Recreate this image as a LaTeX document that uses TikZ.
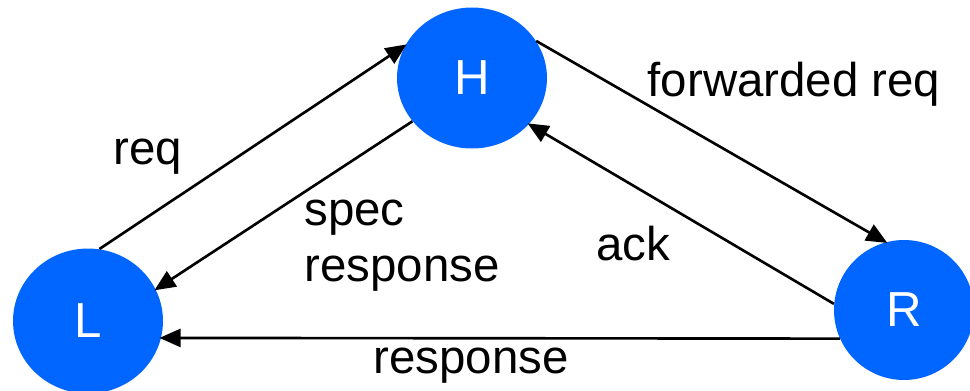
\documentclass[tikz,border=0pt]{standalone}
\usepackage{fontspec}
\setmainfont{Liberation Sans}
\usepackage{tikz}
\usetikzlibrary{arrows.meta,shapes.geometric}
\definecolor{azulNodo}{HTML}{0066FF}

\begin{document}
\begin{tikzpicture}[
  x=0.02cm, y=-0.02cm,
  circ/.style={ellipse, fill=azulNodo, draw=none, inner sep=0pt, text=white, font=\fontsize{28}{32}\selectfont},
  lbl/.style={font=\fontsize{27}{32}\selectfont, inner sep=0pt, align=left},
  arrow/.style={-{Triangle[length=0.42cm, width=0.36cm]}, line width=1.5pt, black, shorten >=-1pt}
]
\clip (0,0) rectangle (970,390);
\node[circ, minimum width=3cm, minimum height=2.82cm] (H) at (472,78) {H};
\node[circ, minimum width=3cm, minimum height=2.9cm] (L) at (88,321) {L};
\node[circ, minimum width=2.8cm, minimum height=2.8cm] (R) at (904,310) {R};
\node[lbl] (req) at (148,157) {req};
\node[lbl] (spec) at (402,246) {spec\\response};
\node[lbl] (fwd) at (794,84) {forwarded req};
\node[lbl] (ack) at (633,244) {ack};
\node[lbl] (resp) at (471,366) {response};
\draw[arrow] (L.81) -- (H.154);
\draw[arrow] (H.216) -- (L.25);
\draw[arrow] (H.30) -- (R.105);
\draw[arrow] (R.175) -- (H.321);
\draw[arrow] (R.204) -- (L.347);
\end{tikzpicture}
\end{document}
